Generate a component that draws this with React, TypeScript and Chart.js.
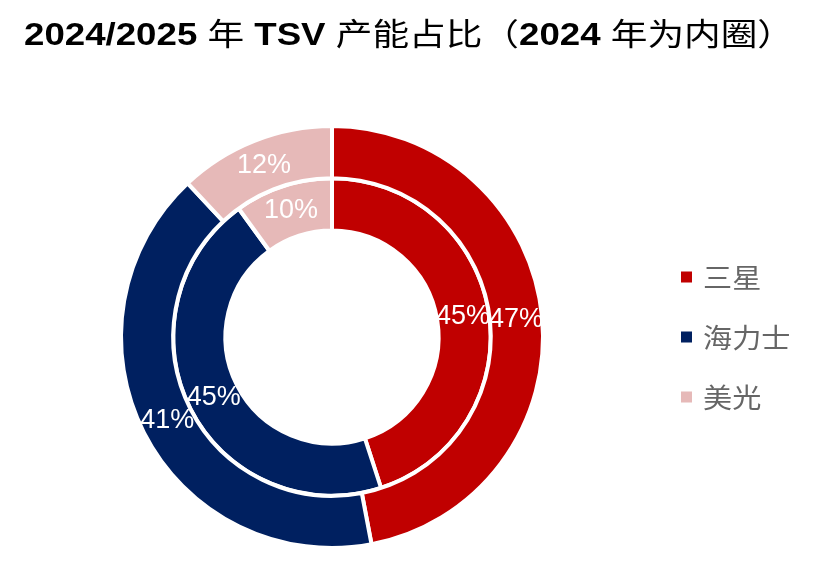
import React, { useEffect, useRef } from "react";
import { Chart, registerables } from "chart.js";

Chart.register(...registerables);

const TITLE = "2024/2025 年 TSV 产能占比（2024 年为内圈）";
const categories = ["三星", "海力士", "美光"];
const share2025 = [47, 41, 12]; // outer ring
const share2024 = [45, 45, 10]; // inner ring
const colors = ["#C00000", "#002060", "#E6B9B8"];

const LATIN_FONT = "'Liberation Sans', Arial, sans-serif";
const CJK_FONT = "'Noto Sans CJK SC', sans-serif";

const titlePlugin = {
  id: "stretchedTitle",
  afterDraw(chart: any) {
    const ctx = chart.ctx;
    const size = 31;
    const runs = TITLE.split(/([\u3000-\u9fff\uff00-\uffef]+)/).filter((s) => s.length);
    const fontFor = (s: string) =>
      /[\u3000-\u9fff\uff00-\uffef]/.test(s) ? `normal ${size}px ${CJK_FONT}` : `bold ${size}px ${LATIN_FONT}`;
    ctx.save();
    let total = 0;
    const widths = runs.map((r) => {
      ctx.font = fontFor(r);
      const w = ctx.measureText(r).width;
      total += w;
      return w;
    });
    const targetW = 770;
    const sx = targetW / total;
    ctx.translate(409 - targetW / 2, 45);
    ctx.scale(sx, 1);
    ctx.fillStyle = "#000";
    ctx.textBaseline = "alphabetic";
    ctx.textAlign = "left";
    let x = 0;
    runs.forEach((r, i) => {
      ctx.font = fontFor(r);
      ctx.fillText(r, x, 0);
      x += widths[i];
    });
    ctx.restore();
  },
};

const legendPlugin = {
  id: "sideLegend",
  afterDraw(chart: any) {
    const ctx = chart.ctx;
    const labels = chart.data.labels as string[];
    const bg = chart.data.datasets[0].backgroundColor as string[];
    const cy = (chart.chartArea.top + chart.chartArea.bottom) / 2;
    const gap = 60;
    ctx.save();
    labels.forEach((lab, i) => {
      const y = cy + (i - (labels.length - 1) / 2) * gap;
      ctx.fillStyle = bg[i];
      ctx.fillRect(681, y - 5.5, 11, 11);
      ctx.save();
      ctx.translate(703, y);
      ctx.scale(1.08, 1);
      ctx.font = `normal 27px ${CJK_FONT}`;
      ctx.fillStyle = "#666666";
      ctx.textBaseline = "middle";
      ctx.textAlign = "left";
      ctx.fillText(lab, 0, 1);
      ctx.restore();
    });
    ctx.restore();
  },
};

const valueLabelPlugin = {
  id: "arcValueLabels",
  afterDatasetsDraw(chart: any) {
    const ctx = chart.ctx;
    ctx.save();
    ctx.font = `normal 27px ${LATIN_FONT}`;
    ctx.fillStyle = "#FFFFFF";
    ctx.textAlign = "center";
    ctx.textBaseline = "middle";
    chart.data.datasets.forEach((ds: any, di: number) => {
      const meta = chart.getDatasetMeta(di);
      meta.data.forEach((el: any, i: number) => {
        const p = el.tooltipPosition();
        ctx.fillText(`${ds.data[i]}%`, p.x, p.y);
      });
    });
    ctx.restore();
  },
};

export default function App() {
  const canvasRef = useRef<HTMLCanvasElement | null>(null);

  useEffect(() => {
    if (!canvasRef.current) return;
    const chart = new Chart(canvasRef.current, {
      type: "doughnut",
      data: {
        labels: categories,
        datasets: [
          {
            label: "2025",
            data: share2025,
            backgroundColor: colors,
            borderColor: "#FFFFFF",
            borderWidth: 4,
            hoverOffset: 0,
            offset: 0,
          },
          {
            label: "2024",
            data: share2024,
            backgroundColor: colors,
            borderColor: "#FFFFFF",
            borderWidth: 4,
            hoverOffset: 0,
            offset: 0,
          },
        ],
      },
      options: {
        animation: false,
        responsive: true,
        maintainAspectRatio: false,
        cutout: "50.5%",
        layout: { padding: { left: 119, right: 292, top: 124, bottom: 37 } },
        plugins: {
          legend: { display: false },
          title: { display: false },
          tooltip: { enabled: false },
        },
        events: [],
      },
      plugins: [titlePlugin, legendPlugin, valueLabelPlugin],
    });
    return () => chart.destroy();
  }, []);

  return (
    <div style={{ position: "fixed", left: 0, top: 0, width: 837, height: 587, background: "#fff" }}>
      <canvas ref={canvasRef} />
    </div>
  );
}
